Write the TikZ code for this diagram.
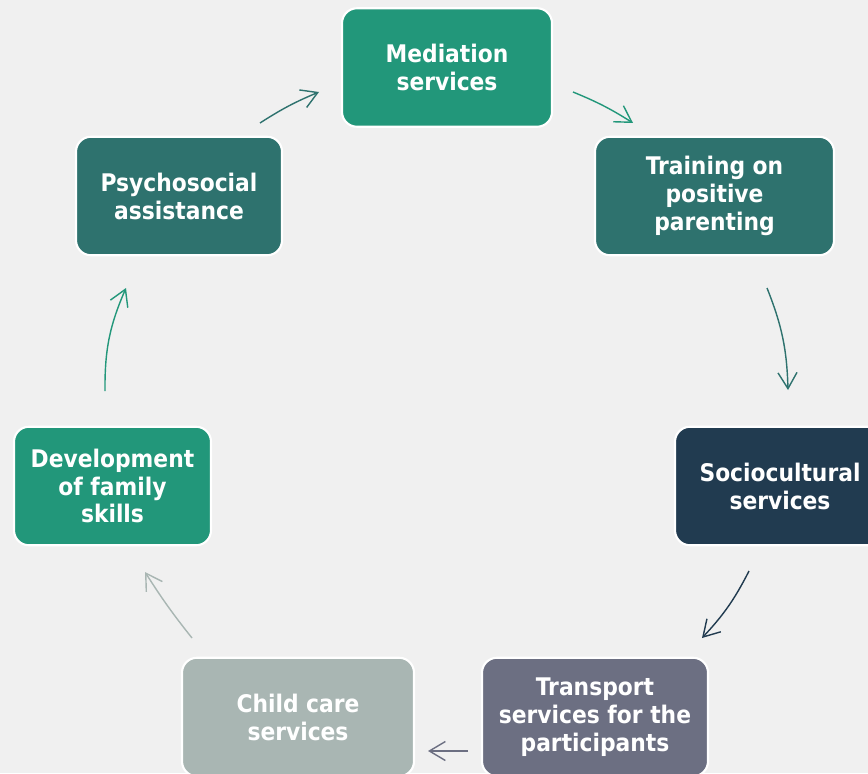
\documentclass[tikz,border=0pt]{standalone}
\usepackage{fontspec}
\newfontfamily\boxfont{DejaVu Sans Condensed}
\usepackage{tikz}
\usetikzlibrary{arrows.meta,calc,positioning}

\definecolor{bggray}{HTML}{F0F0F0}
\definecolor{mint}{HTML}{22977A}
\definecolor{deepteal}{HTML}{2E726E}
\definecolor{navy}{HTML}{213B50}
\definecolor{slate}{HTML}{6C6F82}
\definecolor{sage}{HTML}{A9B6B3}

\begin{document}
\begin{tikzpicture}[
  service/.style={draw=white, line width=1.2pt, rounded corners=8.5pt, minimum height=2.37cm, align=center, text=white, font=\boxfont\bfseries\fontsize{13.8}{15.9}\selectfont, fill=#1},
  arr/.style={-{Straight Barb[length=3.2mm, width=3.8mm]}, line width=0.8pt, draw=#1},
]
\useasboundingbox[fill=bggray] (0,0) rectangle (17.36,15.46);
\node[service=mint, minimum width=4.2cm] (med) at (8.94, 14.11) {Mediation\\services};
\node[service=deepteal, minimum width=4.78cm] (train) at (14.29, 11.54) {Training on\\positive\\parenting};
\node[service=navy, minimum width=4.2cm] (socio) at (15.6, 5.74) {Sociocultural\\services};
\node[service=slate, minimum width=4.52cm] (trans) at (11.9, 1.12) {Transport\\services for the\\participants};
\node[service=sage, minimum width=4.64cm] (child) at (5.96, 1.12) {Child care\\services};
\node[service=mint, minimum width=3.94cm] (dev) at (2.25, 5.74) {Development\\of family\\skills};
\node[service=deepteal, minimum width=4.12cm] (psy) at (3.58, 11.54) {Psychosocial\\assistance};
% arrow ends
\coordinate (psy-out) at (5.2, 13.0);    \coordinate (med-in) at (6.38, 13.62);
\coordinate (med-out) at (11.46, 13.62); \coordinate (train-in) at (12.66, 13.0);
\coordinate (train-out) at (15.34, 9.7); \coordinate (socio-in) at (15.76, 7.66);
\coordinate (socio-out) at (14.98, 4.04); \coordinate (trans-in) at (14.04, 2.7);
\coordinate (trans-out) at (9.36, 0.44); \coordinate (child-in) at (8.56, 0.44);
\coordinate (child-out) at (3.84, 2.7);  \coordinate (dev-in) at (2.9, 4.02);
\coordinate (dev-out) at (2.1, 7.64);    \coordinate (psy-in) at (2.52, 9.7);
\draw[arr=deepteal] (psy-out) to[bend left=5] (med-in);
\draw[arr=mint] (med-out) to[bend left=5] (train-in);
\draw[arr=deepteal] (train-out) to[bend left=10] (socio-in);
\draw[arr=navy] (socio-out) to[bend left=8] (trans-in);
\draw[arr=slate] (trans-out) -- (child-in);
\draw[arr=sage] (child-out) to[bend left=3] (dev-in);
\draw[arr=mint] (dev-out) to[bend left=12] (psy-in);
\end{tikzpicture}
\end{document}
